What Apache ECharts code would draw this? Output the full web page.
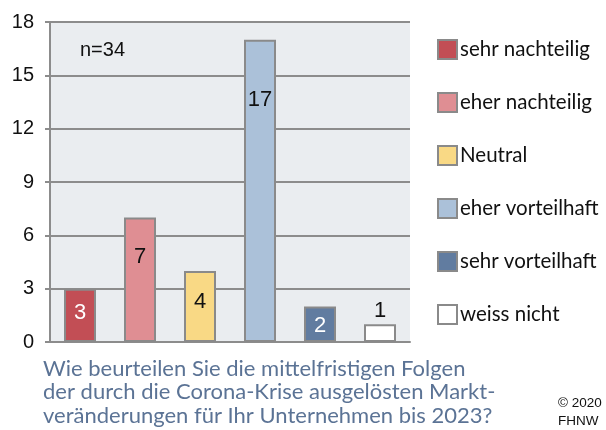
<!DOCTYPE html>
<html>
<head>
<meta charset="utf-8">
<script src="https://cdn.jsdelivr.net/npm/echarts@6/dist/echarts.min.js"></script>
<style>html,body{margin:0;padding:0;background:#fff}#c{width:606px;height:430px}</style>
</head>
<body>
<div id="c"></div>
<script>
const categories = ['sehr nachteilig', 'eher nachteilig', 'Neutral', 'eher vorteilhaft', 'sehr vorteilhaft', 'weiss nicht'];
const values = [3, 7, 4, 17, 2, 1];
const yTicks = [0, 3, 6, 9, 12, 15, 18];
const sampleNote = 'n=34';
const titleLines = ['Wie beurteilen Sie die mittelfristigen Folgen', 'der durch die Corona-Krise ausgelösten Markt-', 'veränderungen für Ihr Unternehmen bis 2023?'];
const creditLines = ['© 2020', 'FHNW'];

// styles
const colors = ['#c24e55', '#df8e93', '#f9d985', '#abc1d9', '#617ca0', '#ffffff'];
const labelColors = ['#ffffff', '#111111', '#111111', '#111111', '#ffffff', '#111111'];
const labelPos = [['50%', '45%'], ['50%', '32%'], ['50%', '44%'], ['50%', '20%'], ['50%', '56%'], 'top'];

const chart = echarts.init(document.getElementById('c'), null, {renderer: 'canvas'});
const series = categories.map((name, i) => ({
  name: name,
  type: 'bar',
  stack: 'all',
  barWidth: 32,
  data: categories.map((_, j) => (j === i ? values[i] : '-')),
  itemStyle: {color: colors[i], borderColor: '#8a8a8a', borderWidth: 2},
  label: {
    show: true,
    position: labelPos[i],
    distance: 13,
    align: 'center',
    verticalAlign: 'middle',
    color: labelColors[i],
    fontFamily: 'Liberation Sans, Arial',
    fontSize: 22
  },
  z: 3
}));

chart.setOption({
  animation: false,
  backgroundColor: '#ffffff',
  grid: {left: 50, right: 196, top: 22, bottom: 88, show: true, backgroundColor: '#eaedf0', borderWidth: 0},
  xAxis: {
    type: 'category',
    data: categories,
    axisLine: {show: true, lineStyle: {color: '#8c8c8c', width: 2}},
    axisTick: {show: false},
    axisLabel: {show: false}
  },
  yAxis: {
    type: 'value',
    min: yTicks[0],
    max: yTicks[yTicks.length - 1],
    interval: yTicks[1] - yTicks[0],
    axisLine: {show: true, lineStyle: {color: '#8c8c8c', width: 2}},
    axisTick: {show: true, length: 5, lineStyle: {color: '#8c8c8c', width: 2}},
    splitLine: {show: true, lineStyle: {color: '#8c8c8c', width: 2}},
    axisLabel: {color: '#111', fontSize: 20, fontFamily: 'Liberation Sans, Arial', margin: 16}
  },
  legend: {
    orient: 'vertical',
    left: 432,
    top: 34,
    itemWidth: 19,
    itemHeight: 19,
    itemGap: 32,
    icon: 'rect',
    data: categories,
    textStyle: {color: '#111', fontSize: 20.5, lineHeight: 21, fontFamily: 'Lato, Open Sans, sans-serif', padding: [0, 0, 0, -2]}
  },
  series: series,
  graphic: [
    {type: 'text', left: 80, top: 40, z: 10, style: {text: sampleNote, fill: '#111', font: '20px "Liberation Sans", Arial'}},
    {type: 'text', left: 43, top: 357, z: 10, style: {text: titleLines.join('\n'), fill: '#5b7395', font: '22px Lato, "Open Sans", sans-serif', lineHeight: 23.5}},
    {type: 'text', left: 558, top: 394, z: 10, style: {text: creditLines.join('\n'), fill: '#111', font: '13.5px "Liberation Sans", Arial', lineHeight: 18}}
  ]
});
</script>
</body>
</html>
